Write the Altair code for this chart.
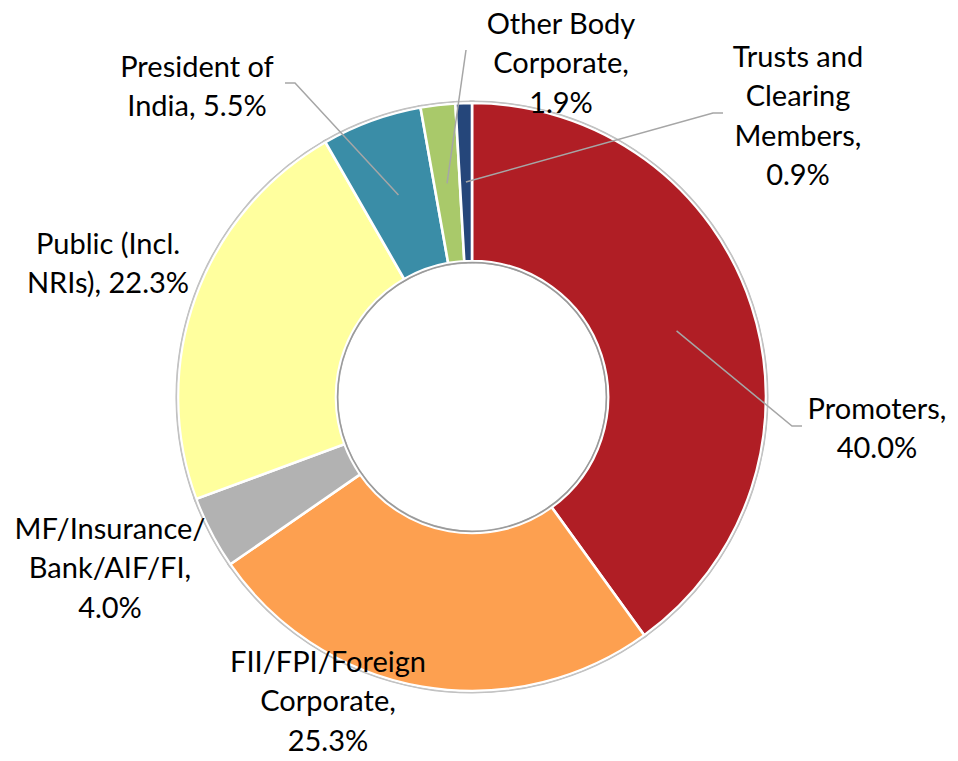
import altair as alt
import pandas as pd
import numpy as np

# ---- data ----
categories = ["Promoters", "FII/FPI/Foreign Corporate", "MF/Insurance/Bank/AIF/FI",
              "Public (Incl. NRIs)", "President of India", "Other Body Corporate",
              "Trusts and Clearing Members"]
values = [40.0, 25.3, 4.0, 22.3, 5.5, 1.9, 0.9]
label_text = ["Promoters,\n40.0%", "FII/FPI/Foreign\nCorporate,\n25.3%",
              "MF/Insurance/\nBank/AIF/FI,\n4.0%", "Public (Incl.\nNRIs), 22.3%",
              "President of\nIndia, 5.5%", "Other Body\nCorporate,\n1.9%",
              "Trusts and\nClearing\nMembers,\n0.9%"]

# ---- styles / layout (pixel positions on the page) ----
colors = ["#B01E25", "#FDA050", "#B2B2B2", "#FFFF9E", "#3A8DA7", "#A9C96A", "#25467A"]
label_x = [877, 328, 110, 108, 197, 561, 798]
label_y = [410, 663, 530, 245, 68, 25, 58]     # centre of first line
# leader elbows / ends (None = no leader)
leader_pts = [[(792, 426), (802, 426)], None, None, None,
              [(295, 83), (285, 83)], [(466, 50)], [(713, 113), (723, 113)]]

W, H = 942, 745
CX, CY = 472, 397          # page coordinates of donut centre
R_OUT, R_IN = 294, 136

df = pd.DataFrame({"cat": categories, "value": values, "order": range(len(values)),
                   "label": label_text, "lx": label_x, "ly": label_y})

# leader lines: start at slice middle (angle from data), mid-radius
total = sum(values)
cum = np.cumsum([0] + values[:-1])
rows = []
for i, (c, v) in enumerate(zip(categories, values)):
    if leader_pts[i] is None:
        continue
    ang = (cum[i] + v / 2) / total * 2 * np.pi
    rm = (R_OUT + R_IN) / 2
    sx, sy = CX + rm * np.sin(ang), CY - rm * np.cos(ang)
    pts = [(sx, sy)] + leader_pts[i]
    for k, (px, py) in enumerate(pts):
        rows.append({"cat": c, "k": k, "x": px, "y": py})
ld = pd.DataFrame(rows)

xs = alt.Scale(domain=[8, 8 + W], nice=False, zero=False)
ys = alt.Scale(domain=[8, 8 + H], nice=False, zero=False, reverse=True)

color_scale = alt.Scale(domain=categories, range=colors)

def donut_layer(stroke, width):
    return alt.Chart(df).mark_arc(
        radius=R_OUT, radius2=R_IN, stroke=stroke, strokeWidth=width
    ).encode(
        theta=alt.Theta("value:Q", stack=True),
        order=alt.Order("order:Q"),
        color=alt.Color("cat:N", scale=color_scale, legend=None),
        x=alt.value(CX - 8), y=alt.value(CY - 8),
    )

donut_edge = donut_layer("#bdbdbd", 5)
donut = donut_layer("#ffffff", 2.6)

one = pd.DataFrame({"v": [1]})
outer_ring = alt.Chart(one).mark_arc(
    theta=0, theta2=2 * np.pi, radius=R_OUT + 1.5, radius2=0,
    fillOpacity=0, fill="#ffffff", stroke="#c4c4c4", strokeWidth=1.2
).encode(x=alt.value(CX - 8), y=alt.value(CY - 8))
inner_ring = alt.Chart(one).mark_arc(
    theta=0, theta2=2 * np.pi, radius=R_IN - 1.5, radius2=0,
    fillOpacity=0, fill="#ffffff", stroke="#9a9a9a", strokeWidth=1.5
).encode(x=alt.value(CX - 8), y=alt.value(CY - 8))

lines = alt.Chart(ld).mark_line(color="#a6a6a6", strokeWidth=1.5).encode(
    x=alt.X("x:Q", scale=xs, axis=None),
    y=alt.Y("y:Q", scale=ys, axis=None),
    detail="cat:N",
    order="k:Q",
)

labels = alt.Chart(df).mark_text(
    font="Lato", fontSize=29, lineBreak="\n", lineHeight=39.3,
    align="center", baseline="middle", color="#000000"
).encode(
    x=alt.X("lx:Q", scale=xs, axis=None),
    y=alt.Y("ly:Q", scale=ys, axis=None),
    text="label:N",
)

chart = alt.layer(donut_edge, donut, outer_ring, inner_ring, lines, labels).properties(
    width=W, height=H, padding=0, autosize=alt.AutoSizeParams(type="none")
).configure_view(stroke=None)

chart.save("out.html", embed_options={"renderer": "svg", "actions": False})
